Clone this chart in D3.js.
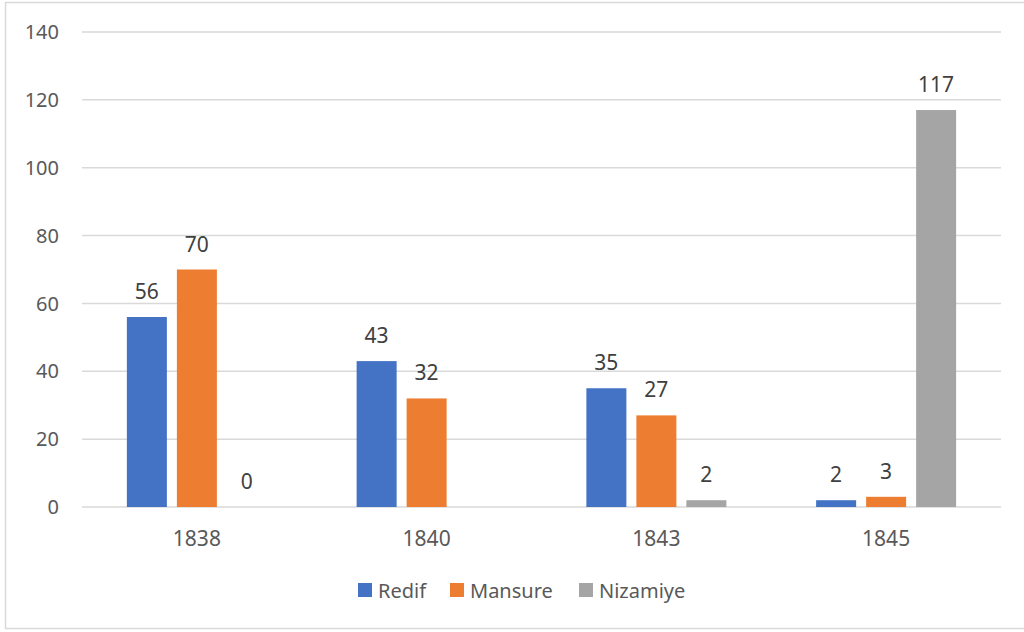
<!DOCTYPE html>
<html>
<head>
<meta charset="utf-8">
<script src="https://cdn.jsdelivr.net/npm/d3@7"></script>
<style>
  html, body { margin: 0; padding: 0; background: #fff; }
  svg { display: block; font-family: "Noto Sans", "Open Sans", sans-serif; }
</style>
</head>
<body>
<svg id="chart" width="1024" height="632"></svg>
<script>
const years = ['1838', '1840', '1843', '1845'];
const seriesNames = ['Redif', 'Mansure', 'Nizamiye'];
const redif = [56, 43, 35, 2];
const mansure = [70, 32, 27, 3];
const nizamiye = [0, null, 2, 117];
const yTicks = [0, 20, 40, 60, 80, 100, 120, 140];
const colors = ['#4472C4', '#ED7D31', '#A5A5A5'];

const values = [redif, mansure, nizamiye];

const svg = d3.select('#chart');
const W = 1024;
const plotLeft = 82, plotRight = 1001, plotTop = 32, plotBottom = 507;

// outer frame
svg.append('rect')
  .attr('x', 5.5).attr('y', 2.5)
  .attr('width', W).attr('height', 626)
  .attr('fill', 'none')
  .attr('stroke', '#d9d9d9')
  .attr('stroke-width', 1.5);

const x0 = d3.scaleBand().domain(years).range([plotLeft, plotRight]).padding(0);
const x1 = d3.scaleBand().domain(seriesNames).range([0, 150])
  .paddingInner(0.2).paddingOuter(0.1);
const y = d3.scaleLinear().domain([0, 140]).range([plotBottom, plotTop]);

// grid
svg.append('g')
  .selectAll('line')
  .data(yTicks)
  .join('line')
  .attr('x1', plotLeft).attr('x2', plotRight)
  .attr('y1', d => y(d)).attr('y2', d => y(d))
  .attr('stroke', '#d9d9d9')
  .attr('stroke-width', 1.5);

// y tick labels
svg.append('g')
  .selectAll('text')
  .data(yTicks)
  .join('text')
  .attr('x', 59)
  .attr('y', d => y(d))
  .attr('dy', '0.36em')
  .attr('text-anchor', 'end')
  .attr('font-size', 20)
  .attr('fill', '#595959')
  .text(d => d);

// x labels
svg.append('g')
  .selectAll('text')
  .data(years)
  .join('text')
  .attr('x', d => x0(d) + x0.bandwidth() / 2)
  .attr('y', 546)
  .attr('text-anchor', 'middle')
  .attr('font-size', 21)
  .attr('fill', '#595959')
  .text(d => d);

// bars
const rows = [];
years.forEach((yr, i) => {
  seriesNames.forEach((s, j) => {
    rows.push({ year: yr, series: s, value: values[j][i], color: colors[j] });
  });
});

const groupOffset = yr => x0(yr) + x0.bandwidth() / 2 - 75;

svg.append('g')
  .selectAll('rect')
  .data(rows.filter(d => d.value !== null))
  .join('rect')
  .attr('x', d => groupOffset(d.year) + x1(d.series))
  .attr('y', d => y(d.value))
  .attr('width', x1.bandwidth())
  .attr('height', d => y(0) - y(d.value))
  .attr('fill', d => d.color);

// value labels
svg.append('g')
  .selectAll('text')
  .data(rows.filter(d => d.value !== null))
  .join('text')
  .attr('x', d => groupOffset(d.year) + x1(d.series) + x1.bandwidth() / 2)
  .attr('y', d => y(d.value) - 18)
  .attr('text-anchor', 'middle')
  .attr('font-size', 21)
  .attr('fill', '#404040')
  .text(d => d.value);

// legend
const legendX = [358, 450, 579];
const legend = svg.append('g')
  .selectAll('g')
  .data(seriesNames)
  .join('g')
  .attr('transform', (d, i) => `translate(${legendX[i]}, 583)`);

legend.append('rect')
  .attr('width', 14).attr('height', 14)
  .attr('fill', (d, i) => colors[i]);

legend.append('text')
  .attr('x', 20)
  .attr('y', 14.5)
  .attr('font-size', 20)
  .attr('fill', '#595959')
  .text(d => d);
</script>
</body>
</html>
